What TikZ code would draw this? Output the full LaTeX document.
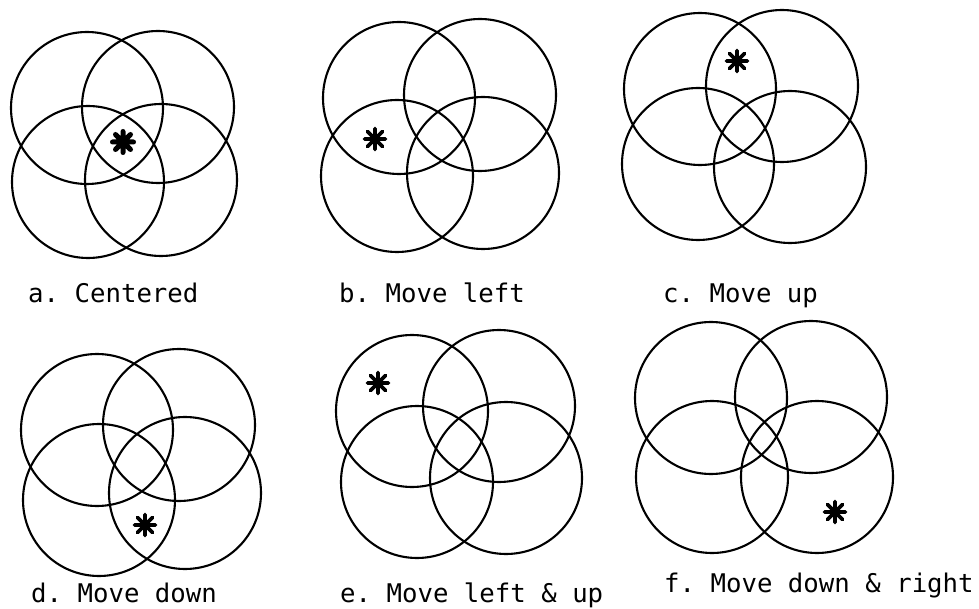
\documentclass[tikz,border=0pt]{standalone}
\usepackage{fontspec}
\setmonofont{DejaVu Sans Mono}
\begin{document}
\begin{tikzpicture}[x=1pt,y=-1pt,
  ring/.style={circle,draw,line width=2.1pt,minimum size=152pt,inner sep=0pt},
  lbl/.style={anchor=base west,inner sep=0pt,font=\ttfamily\fontsize{25.7}{30}\selectfont},
  pics/astk/.style={code={
    \draw[line width=#1,line cap=round] (-10.5,0)--(10.5,0) (0,-10.5)--(0,10.5)
      (-7.5,-7.5)--(7.5,7.5) (-7.5,7.5)--(7.5,-7.5);}}]
\useasboundingbox (0,0) rectangle (979,609);
% panel a
\node[ring] (a1) at (87,108) {};
\node[ring] (a2) at (158,107) {};
\node[ring] (a3) at (88,182) {};
\node[ring] (a4) at (161,180) {};
\pic at (123,142) {astk=5pt};
\node[lbl] (la) at (28,302) {a. Centered};
% panel b
\node[ring] (b1) at (399,98) {};
\node[ring] (b2) at (480,95) {};
\node[ring] (b3) at (397,176) {};
\node[ring] (b4) at (483,173) {};
\pic at (375,139) {astk=3.6pt};
\node[lbl] (lb) at (339,302) {b. Move left};
% panel c
\node[ring] (c1) at (700,89) {};
\node[ring] (c2) at (782,86) {};
\node[ring] (c3) at (698,164) {};
\node[ring] (c4) at (790,167) {};
\pic at (737,61) {astk=3.6pt};
\node[lbl] (lc) at (663,302) {c. Move up};
% panel d
\node[ring] (d1) at (97,430) {};
\node[ring] (d2) at (179,425) {};
\node[ring] (d3) at (99,500) {};
\node[ring] (d4) at (185,493) {};
\pic at (145,525) {astk=3.6pt};
\node[lbl] (ld) at (31,602) {d. Move down};
% panel e
\node[ring] (e1) at (412,411) {};
\node[ring] (e2) at (499,406) {};
\node[ring] (e3) at (417,482) {};
\node[ring] (e4) at (506,478) {};
\pic at (378,383) {astk=3.6pt};
\node[lbl] (le) at (340,602) {e. Move left \& up};
% panel f
\node[ring] (f1) at (711,398) {};
\node[ring] (f2) at (811,397) {};
\node[ring] (f3) at (712,477) {};
\node[ring] (f4) at (817,477) {};
\pic at (835,512) {astk=3.6pt};
\node[lbl] (lf) at (664,592) {f. Move down \& right};
\end{tikzpicture}
\end{document}
